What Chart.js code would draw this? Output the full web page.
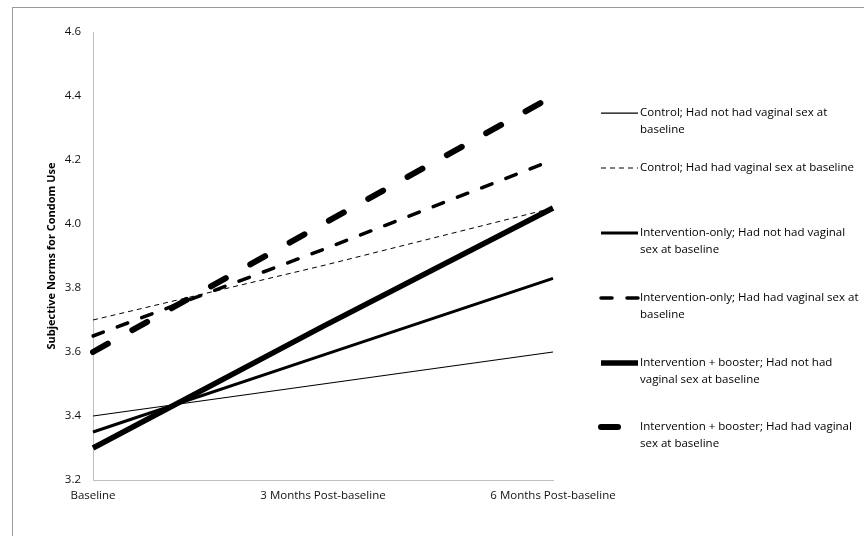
<!DOCTYPE html>
<html>
<head>
<meta charset="utf-8">
<script src="https://cdn.jsdelivr.net/npm/chart.js@4"></script>
<style>
  body { margin: 0; background: #fff; }
  #wrap { width: 864px; height: 536px; }
</style>
</head>
<body>
<div id="wrap"><canvas id="chart" width="864" height="536"></canvas></div>
<script>
const categories = ['Baseline', '3 Months Post-baseline', '6 Months Post-baseline'];
const controlNoSex = [3.40, 3.50, 3.60];
const controlSex = [3.70, 3.87, 4.05];
const interventionNoSex = [3.35, 3.59, 3.83];
const interventionSex = [3.65, 3.92, 4.20];
const boosterNoSex = [3.30, 3.68, 4.05];
const boosterSex = [3.60, 4.00, 4.40];
const yTicks = [3.2, 3.4, 3.6, 3.8, 4.0, 4.2, 4.4, 4.6];

const legendLines = [
    ['Control; Had not had vaginal sex at', 'baseline'],
    ['Control; Had had vaginal sex at baseline'],
    ['Intervention-only; Had not had vaginal', 'sex at baseline'],
    ['Intervention-only; Had had vaginal sex at', 'baseline'],
    ['Intervention + booster; Had not had', 'vaginal sex at baseline'],
    ['Intervention + booster; Had had vaginal', 'sex at baseline']
];
const legendY = [113, 168, 233, 298, 363, 427];

const fontFamily = '"Open Sans", "Liberation Sans", sans-serif';

function series(label, data, width, dash, cap) {
    return {
        label: label,
        data: data,
        borderColor: '#000',
        borderWidth: width,
        borderDash: dash,
        borderCapStyle: cap,
        pointRadius: 0,
        fill: false,
        tension: 0
    };
}

const datasets = [
    series(legendLines[0].join(' '), controlNoSex, 1.25, [], 'butt'),
    series(legendLines[1].join(' '), controlSex, 1, [5, 4], 'butt'),
    series(legendLines[2].join(' '), interventionNoSex, 3, [], 'butt'),
    series(legendLines[3].join(' '), interventionSex, 3.5, [11, 15], 'round'),
    series(legendLines[4].join(' '), boosterNoSex, 5.5, [], 'butt'),
    series(legendLines[5].join(' '), boosterSex, 6, [17, 28], 'round')
];

// grey frame around the chart, like the exported figure
const framePlugin = {
    id: 'frame',
    beforeDraw(chart) {
        const ctx = chart.ctx;
        ctx.save();
        ctx.strokeStyle = '#999';
        ctx.lineWidth = 1;
        ctx.strokeRect(12.5, 7.5, 900, 600);
        ctx.restore();
    }
};

// legend on the right with wrapped text
const sideLegend = {
    id: 'sideLegend',
    afterDraw(chart) {
        const ctx = chart.ctx;
        ctx.save();
        chart.data.datasets.forEach((ds, i) => {
            const y = legendY[i];
            ctx.beginPath();
            ctx.strokeStyle = ds.borderColor;
            ctx.lineWidth = ds.borderWidth;
            ctx.setLineDash(ds.borderDash);
            ctx.lineCap = ds.borderCapStyle;
            ctx.moveTo(601, y);
            ctx.lineTo(638, y);
            ctx.stroke();
            ctx.setLineDash([]);
            ctx.fillStyle = '#000';
            ctx.font = '11.5px ' + fontFamily;
            ctx.textBaseline = 'middle';
            ctx.textAlign = 'left';
            legendLines[i].forEach((t, j) => {
                ctx.fillText(t, 640, y + j * 17);
            });
        });
        ctx.restore();
    }
};

new Chart(document.getElementById('chart'), {
    type: 'line',
    data: {
        labels: categories,
        datasets: datasets
    },
    options: {
        responsive: false,
        animation: false,
        layout: {
            padding: { top: 32, right: 311, left: 0, bottom: 0 }
        },
        plugins: {
            legend: { display: false },
            tooltip: { enabled: false }
        },
        scales: {
            x: {
                offset: false,
                grid: { display: false, drawTicks: false },
                border: { display: true, color: '#bfbfbf', width: 1 },
                ticks: {
                    color: '#111',
                    font: { family: fontFamily, size: 11.5 },
                    padding: 9,
                    maxRotation: 0
                },
                afterFit(scale) { scale.height = 56; }
            },
            y: {
                min: 3.2,
                max: 4.6,
                afterBuildTicks(scale) {
                    scale.ticks = yTicks.map(v => ({ value: v }));
                },
                grid: { display: false, drawTicks: false },
                border: { display: true, color: '#bfbfbf', width: 1 },
                ticks: {
                    color: '#111',
                    font: { family: fontFamily, size: 11.5 },
                    padding: 12,
                    callback: v => Number(v).toFixed(1)
                },
                title: {
                    display: true,
                    text: 'Subjective Norms for Condom Use',
                    color: '#000',
                    font: { family: fontFamily, size: 11, weight: 'bold' },
                    padding: { top: 45, bottom: 0 }
                },
                afterFit(scale) { scale.width = 93; }
            }
        }
    },
    plugins: [framePlugin, sideLegend]
});
</script>
</body>
</html>
